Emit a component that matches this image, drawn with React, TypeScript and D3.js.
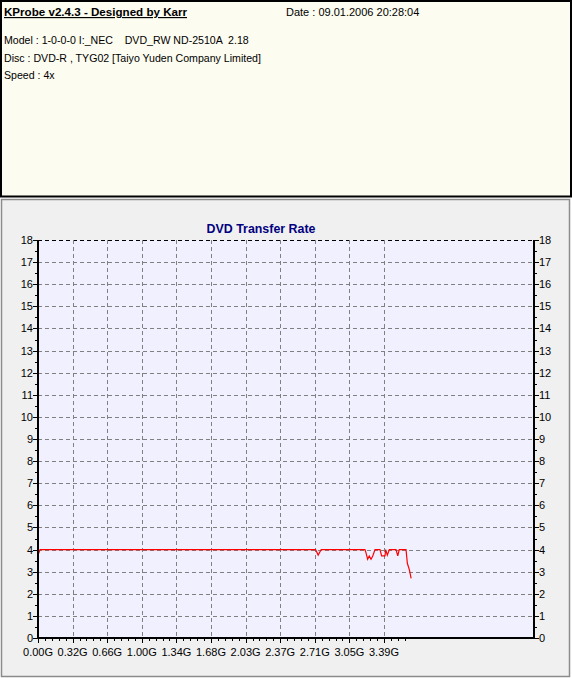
import React from "react";
import * as d3 from "d3";

const headerTitle = "KProbe v2.4.3 - Designed by Karr";
const headerDate = "Date : 09.01.2006 20:28:04";
const headerLines = [
  "Model : 1-0-0-0 I:_NEC    DVD_RW ND-2510A  2.18",
  "Disc : DVD-R , TYG02 [Taiyo Yuden Company Limited]",
  "Speed : 4x",
];
const chartTitle = "DVD Transfer Rate";

const xTickLabels = ["0.00G", "0.32G", "0.66G", "1.00G", "1.34G", "1.68G", "2.03G", "2.37G", "2.71G", "3.05G", "3.39G"];
const xTickValues = [0, 0.339, 0.678, 1.017, 1.356, 1.695, 2.034, 2.373, 2.712, 3.051, 3.39];
const xMax = 4.86;
const yTicks = [0, 1, 2, 3, 4, 5, 6, 7, 8, 9, 10, 11, 12, 13, 14, 15, 16, 17, 18];
const yMax = 18;

// transfer rate (x = position in G, y = speed)
const posG = [0, 0.02, 2.72, 2.745, 2.775, 3.204, 3.214, 3.23, 3.246, 3.263, 3.28, 3.302, 3.351, 3.367, 3.4, 3.407, 3.423, 3.443, 3.508, 3.525, 3.54, 3.606, 3.619, 3.639, 3.656];
const rate = [3.75, 4.0, 4.0, 3.75, 4.0, 4.0, 3.85, 3.56, 3.71, 3.56, 3.71, 4.0, 4.0, 3.71, 3.71, 4.0, 3.75, 4.0, 4.0, 3.71, 4.0, 4.0, 3.38, 3.08, 2.7];

const W = 572;
const H = 678;
const left = 38;
const right = 534;
const top = 240;
const bottom = 638;
const font = "Tahoma, 'Liberation Sans', Arial, sans-serif";

export default function App() {
  const x = d3.scaleLinear().domain([0, xMax]).range([left, right]);
  const y = d3.scaleLinear().domain([0, yMax]).range([bottom, top]);
  const line = d3
    .line<number>()
    .x((_, i) => x(posG[i]))
    .y((d) => y(d));
  const minorX = d3.range(0, 3.66, 0.0678);
  const minorY = d3.range(0.5, yMax, 1);

  return (
    <svg
      width={W}
      height={H}
      style={{ position: "absolute", left: 0, top: 0, display: "block" }}
      fontFamily={font}
      fontSize={11}
    >
      {/* header panel */}
      <rect x={1} y={1} width={570} height={195.5} fill="#FCFCF0" stroke="#000" strokeWidth={2} />
      <text x={4} y={16} fontWeight="bold" fontSize={11.6} textDecoration="underline" fill="#000">
        {headerTitle}
      </text>
      <text x={286} y={16} fill="#000">
        {headerDate}
      </text>
      {headerLines.map((t, i) => (
        <text key={i} x={4} y={44 + i * 17.5} fontSize={10.6} fill="#000" style={{ whiteSpace: "pre" }}>
          {t}
        </text>
      ))}

      {/* chart panel */}
      <rect x={1.5} y={199.5} width={568} height={477} fill="#F0F0F0" stroke="#8C8C8C" strokeWidth={1.5} />
      <text x={261} y={233} textAnchor="middle" fontWeight="bold" fill="#000080" fontSize={12.4}>
        {chartTitle}
      </text>

      {/* plot background */}
      <rect x={left} y={top} width={right - left} height={bottom - top} fill="#F0F0FF" />

      {/* horizontal grid */}
      {yTicks.map((v) => (
        <line
          key={"hg" + v}
          x1={left}
          x2={right}
          y1={Math.round(y(v)) + 0.5}
          y2={Math.round(y(v)) + 0.5}
          stroke={v === yMax ? "#000" : "#808080"}
          strokeDasharray="4,3"
        />
      ))}
      {/* vertical grid */}
      {xTickValues.slice(1).map((v) => (
        <line
          key={"vg" + v}
          x1={Math.round(x(v)) + 0.5}
          x2={Math.round(x(v)) + 0.5}
          y1={top}
          y2={bottom}
          stroke="#808080"
          strokeDasharray="4,3"
        />
      ))}

      {/* data line */}
      <path d={line(rate) || ""} fill="none" stroke="#FF0000" strokeWidth={1.2} />

      {/* axes */}
      <line x1={left} x2={left} y1={top} y2={bottom + 1} stroke="#000" strokeWidth={2} />
      <line x1={right} x2={right} y1={top} y2={bottom + 1} stroke="#000" strokeWidth={2} />
      <line x1={left - 1} x2={right + 1} y1={bottom} y2={bottom} stroke="#000" strokeWidth={2} />

      {/* y ticks & labels */}
      {yTicks.map((v) => (
        <g key={"yt" + v}>
          <line x1={left - 5} x2={left} y1={Math.round(y(v)) + 0.5} y2={Math.round(y(v)) + 0.5} stroke="#000" />
          <line x1={right} x2={right + 5} y1={Math.round(y(v)) + 0.5} y2={Math.round(y(v)) + 0.5} stroke="#000" />
          <text x={left - 5} y={y(v) + 4} textAnchor="end" fill="#000">
            {v}
          </text>
          <text x={right + 5} y={y(v) + 4} textAnchor="start" fill="#000">
            {v}
          </text>
        </g>
      ))}
      {minorY.map((v) => (
        <g key={"ym" + v}>
          <line x1={left - 3} x2={left} y1={Math.round(y(v)) + 0.5} y2={Math.round(y(v)) + 0.5} stroke="#000" />
          <line x1={right} x2={right + 3} y1={Math.round(y(v)) + 0.5} y2={Math.round(y(v)) + 0.5} stroke="#000" />
        </g>
      ))}

      {/* x ticks & labels */}
      {minorX.map((v, i) => (
        <line
          key={"xm" + i}
          x1={Math.round(x(v)) + 0.5}
          x2={Math.round(x(v)) + 0.5}
          y1={bottom}
          y2={bottom + 3}
          stroke="#000"
        />
      ))}
      {xTickValues.map((v, i) => (
        <g key={"xt" + v}>
          <line x1={Math.round(x(v)) + 0.5} x2={Math.round(x(v)) + 0.5} y1={bottom} y2={bottom + 5} stroke="#000" />
          <text x={x(v)} y={bottom + 18} textAnchor="middle" fill="#000">
            {xTickLabels[i]}
          </text>
        </g>
      ))}
    </svg>
  );
}
